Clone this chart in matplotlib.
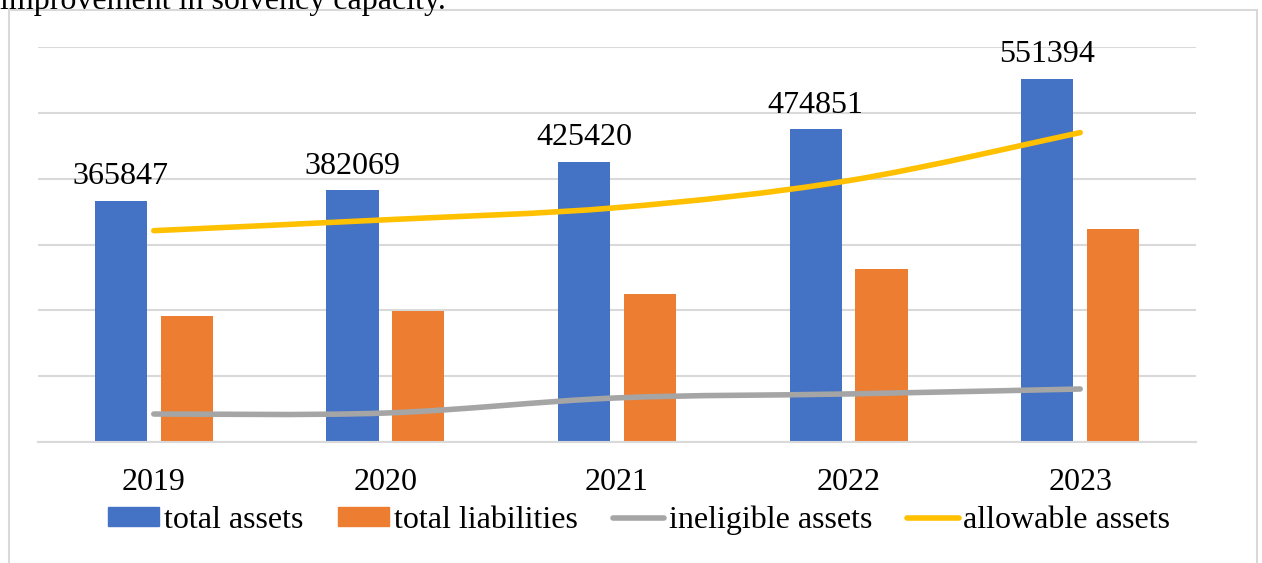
import matplotlib.pyplot as plt
from matplotlib.path import Path
from matplotlib.patches import PathPatch, Rectangle
from matplotlib.lines import Line2D

plt.rcParams['font.family'] = ['Liberation Serif', 'DejaVu Serif']

years = ['2019', '2020', '2021', '2022', '2023']
total_assets = [365847, 382069, 425420, 474851, 551394]
total_liabilities = [191000, 199000, 225000, 263000, 324000]
ineligible_assets = [42500, 44000, 67000, 73000, 80500]
allowable_assets = [321000, 337500, 356000, 397000, 470000]

blue = '#4472C4'
orange = '#ED7D31'
gray = '#A5A5A5'
yellow = '#FFC000'
grid_c = '#D9D9D9'


def smooth_path(xs, ys):
    # excel-like smoothed line (catmull-rom to bezier)
    verts = [(xs[0], ys[0])]
    codes = [Path.MOVETO]
    n = len(xs)
    for i in range(n - 1):
        x0, y0 = xs[max(i - 1, 0)], ys[max(i - 1, 0)]
        x1, y1 = xs[i], ys[i]
        x2, y2 = xs[i + 1], ys[i + 1]
        x3, y3 = xs[min(i + 2, n - 1)], ys[min(i + 2, n - 1)]
        c1 = (x1 + (x2 - x0) / 6, y1 + (y2 - y0) / 6)
        c2 = (x2 - (x3 - x1) / 6, y2 - (y3 - y1) / 6)
        verts += [c1, c2, (x2, y2)]
        codes += [Path.CURVE4] * 3
    return Path(verts, codes)


fig = plt.figure(figsize=(12.62, 5.63), dpi=100)
ax = fig.add_axes([38 / 1262, 121 / 563, 1158 / 1262, 395 / 563])

x = list(range(len(years)))
w = 0.225
off = 0.142
ax.bar([i - off for i in x], total_assets, width=w, color=blue, zorder=2)
ax.bar([i + off for i in x], total_liabilities, width=w, color=orange, zorder=2)

for vals, c in [(ineligible_assets, gray), (allowable_assets, yellow)]:
    p = PathPatch(smooth_path(x, vals), facecolor='none', edgecolor=c,
                  lw=4, capstyle='round', zorder=3)
    ax.add_patch(p)

for i, v in enumerate(total_assets):
    ax.annotate(str(v), (i - off, v), xytext=(0, 12), textcoords='offset points',
                ha='center', va='baseline', fontsize=23)

ax.set_xlim(-0.5, 4.5)
ax.set_ylim(0, 600000)
ax.set_yticks(range(0, 600001, 100000))
ax.yaxis.grid(True, color=grid_c, lw=1.5, zorder=0)
ax.set_yticklabels([])
ax.tick_params(axis='y', length=0)
ax.set_xticks(x)
ax.set_xticklabels(years, fontsize=23)
ax.tick_params(axis='x', length=0, pad=19)
for s in ['top', 'right', 'left']:
    ax.spines[s].set_visible(False)
ax.spines['bottom'].set_color(grid_c)
ax.spines['bottom'].set_linewidth(1.5)

handles = [Rectangle((0, 0), 1, 1, color=blue),
           Rectangle((0, 0), 1, 1, color=orange),
           Line2D([], [], color=gray, lw=4, solid_capstyle='round'),
           Line2D([], [], color=yellow, lw=4, solid_capstyle='round')]
labels = ['total assets', 'total liabilities', 'ineligible assets', 'allowable assets']
fig.legend(handles, labels, loc='center', bbox_to_anchor=(639 / 1262, 43 / 563),
           ncol=4, frameon=False, fontsize=23, handlelength=1.6, handleheight=0.5,
           handletextpad=0.15, columnspacing=1.1, borderaxespad=0)

# chart border
fig.patches.append(Rectangle((9 / 1262, -0.1), 1248 / 1262, 1.1 - 10 / 563,
                             transform=fig.transFigure, fill=False,
                             edgecolor=grid_c, lw=1.5))

# caption line above the chart, cut by the top edge as in the source
fig.text(0, 1 - 9 / 563, 'improvement in solvency capacity.', fontsize=23,
         va='baseline', ha='left')

fig.savefig('out.png', dpi=100)
